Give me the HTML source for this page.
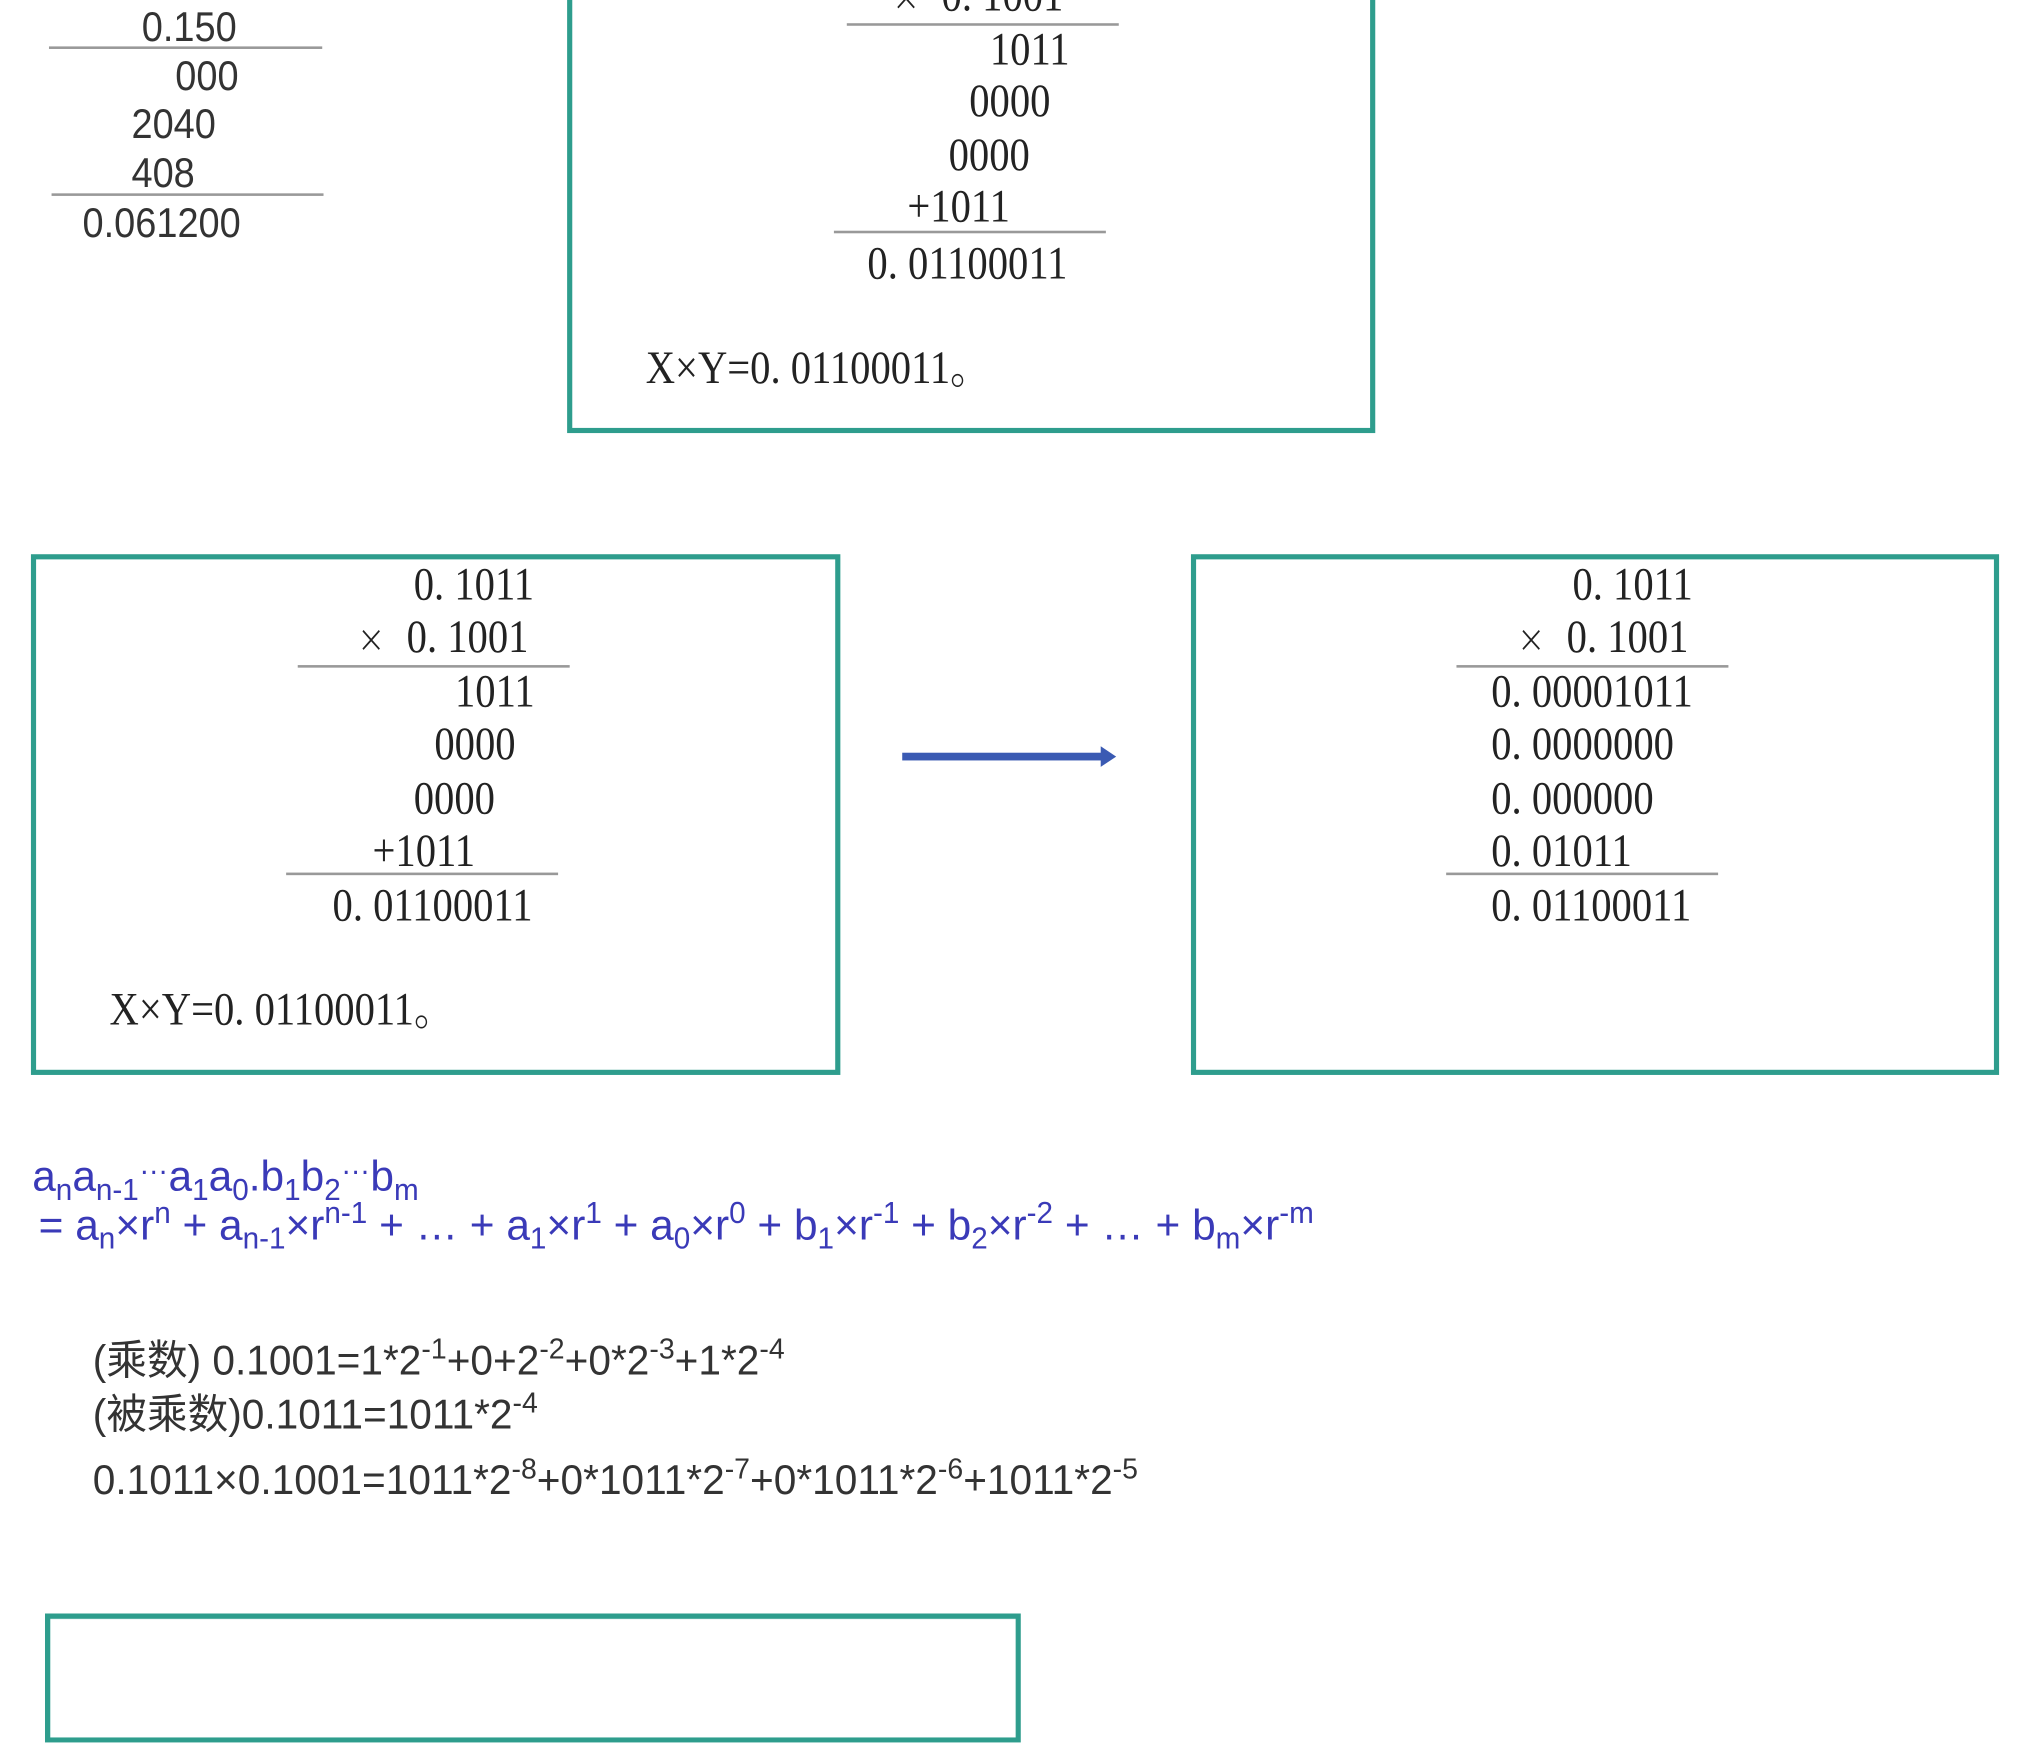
<!DOCTYPE html>
<html><head><meta charset="utf-8"><style>
html,body{margin:0;padding:0;background:#fff;width:2021px;height:1635px;overflow:hidden}
#c{position:absolute;left:0;top:0;width:1568px;height:1269px;transform:scale(1.28890);transform-origin:0 0}
.s{position:absolute;white-space:nowrap;line-height:1;font-family:"Liberation Serif","Noto Serif CJK SC",serif;font-size:36px;color:#222;transform:scaleX(0.875);transform-origin:0 0}
.a{position:absolute;white-space:nowrap;line-height:1;font-family:"Liberation Sans","Noto Sans CJK SC",sans-serif;font-size:32px;color:#333;transform:scaleX(0.92);transform-origin:0 0}
.f{position:absolute;white-space:nowrap;line-height:1;font-family:"Liberation Sans","Noto Sans CJK SC",sans-serif;font-size:32px;color:#333;transform:scaleX(0.985);transform-origin:0 0}
.b{color:#3a3ab8;font-size:33.4px}
.l{position:absolute;height:1.5px;background:#999}
.box{position:absolute;border:4px solid #2e9d8d;box-sizing:border-box}
.x{display:inline-block;font-family:"DejaVu Sans",sans-serif;font-size:30px;width:44px;text-align:left;font-weight:200}
sub,sup{font-size:70%}
sub{vertical-align:-0.3em}sup{vertical-align:0.55em}
</style></head><body><div id="c">
<div class="a" style="left:110px;top:5px">0.150</div>
<div class="l" style="left:38px;top:36px;width:212px"></div>
<div class="a" style="left:136px;top:43px">000</div>
<div class="a" style="left:102px;top:80px">2040</div>
<div class="a" style="left:102px;top:118px">408</div>
<div class="l" style="left:40px;top:150px;width:211px"></div>
<div class="a" style="left:64px;top:157px">0.061200</div>

<div class="box" style="left:440px;top:-10px;width:627px;height:346px"></div>
<div class="s" style="left:692px;top:-22px"><span class="x">×</span>0. 1001</div>
<div class="l" style="left:657px;top:18px;width:211px"></div>
<div class="s" style="left:768px;top:20px">1011</div>
<div class="s" style="left:752px;top:60px">0000</div>
<div class="s" style="left:736px;top:102px">0000</div>
<div class="s" style="left:704px;top:142px">+1011</div>
<div class="l" style="left:647px;top:179px;width:211px"></div>
<div class="s" style="left:673px;top:186px">0. 01100011</div>
<div class="s" style="left:501px;top:267px">X×Y=0. 01100011。</div>

<div class="box" style="left:24px;top:430px;width:628px;height:404px"></div>
<div class="s" style="left:321px;top:435px">0. 1011</div>
<div class="s" style="left:277px;top:476px"><span class="x">×</span>0. 1001</div>
<div class="l" style="left:231px;top:516px;width:211px"></div>
<div class="s" style="left:353px;top:518px">1011</div>
<div class="s" style="left:337px;top:559px">0000</div>
<div class="s" style="left:321px;top:601px">0000</div>
<div class="s" style="left:289px;top:642px">+1011</div>
<div class="l" style="left:222px;top:677px;width:211px"></div>
<div class="s" style="left:258px;top:684px">0. 01100011</div>
<div class="s" style="left:85px;top:765px">X×Y=0. 01100011。</div>

<div style="position:absolute;left:700px;top:584px;width:156px;height:6px;background:#3a5ab3"></div>
<div style="position:absolute;left:854px;top:579px;width:0;height:0;border-left:12px solid #3a5ab3;border-top:8px solid transparent;border-bottom:8px solid transparent"></div>

<div class="box" style="left:924px;top:430px;width:627px;height:404px"></div>
<div class="s" style="left:1220px;top:435px">0. 1011</div>
<div class="s" style="left:1177px;top:476px"><span class="x">×</span>0. 1001</div>
<div class="l" style="left:1130px;top:516px;width:211px"></div>
<div class="s" style="left:1157px;top:518px">0. 00001011</div>
<div class="s" style="left:1157px;top:559px">0. 0000000</div>
<div class="s" style="left:1157px;top:601px">0. 000000</div>
<div class="s" style="left:1157px;top:642px">0. 01011</div>
<div class="l" style="left:1122px;top:677px;width:211px"></div>
<div class="s" style="left:1157px;top:684px">0. 01100011</div>

<div class="f b" style="left:25px;top:892px">a<sub>n</sub>a<sub>n-1</sub><sup>…</sup>a<sub>1</sub>a<sub>0</sub>.b<sub>1</sub>b<sub>2</sub><sup>…</sup>b<sub>m</sub></div>
<div class="f b" style="left:30px;top:930px">= a<sub>n</sub>×r<sup>n</sup> + a<sub>n-1</sub>×r<sup>n-1</sup> + … + a<sub>1</sub>×r<sup>1</sup> + a<sub>0</sub>×r<sup>0</sup> + b<sub>1</sub>×r<sup>-1</sup> + b<sub>2</sub>×r<sup>-2</sup> + … + b<sub>m</sub>×r<sup>-m</sup></div>

<div class="f" style="left:72px;top:1036px">(乘数) 0.1001=1*2<sup>-1</sup>+0+2<sup>-2</sup>+0*2<sup>-3</sup>+1*2<sup>-4</sup></div>
<div class="f" style="left:72px;top:1078px">(被乘数)0.1011=1011*2<sup>-4</sup></div>
<div class="f" style="left:72px;top:1129px">0.1011×0.1001=1011*2<sup>-8</sup>+0*1011*2<sup>-7</sup>+0*1011*2<sup>-6</sup>+1011*2<sup>-5</sup></div>

<div class="box" style="left:35px;top:1252px;width:757px;height:100px"></div>
</div></body></html>
